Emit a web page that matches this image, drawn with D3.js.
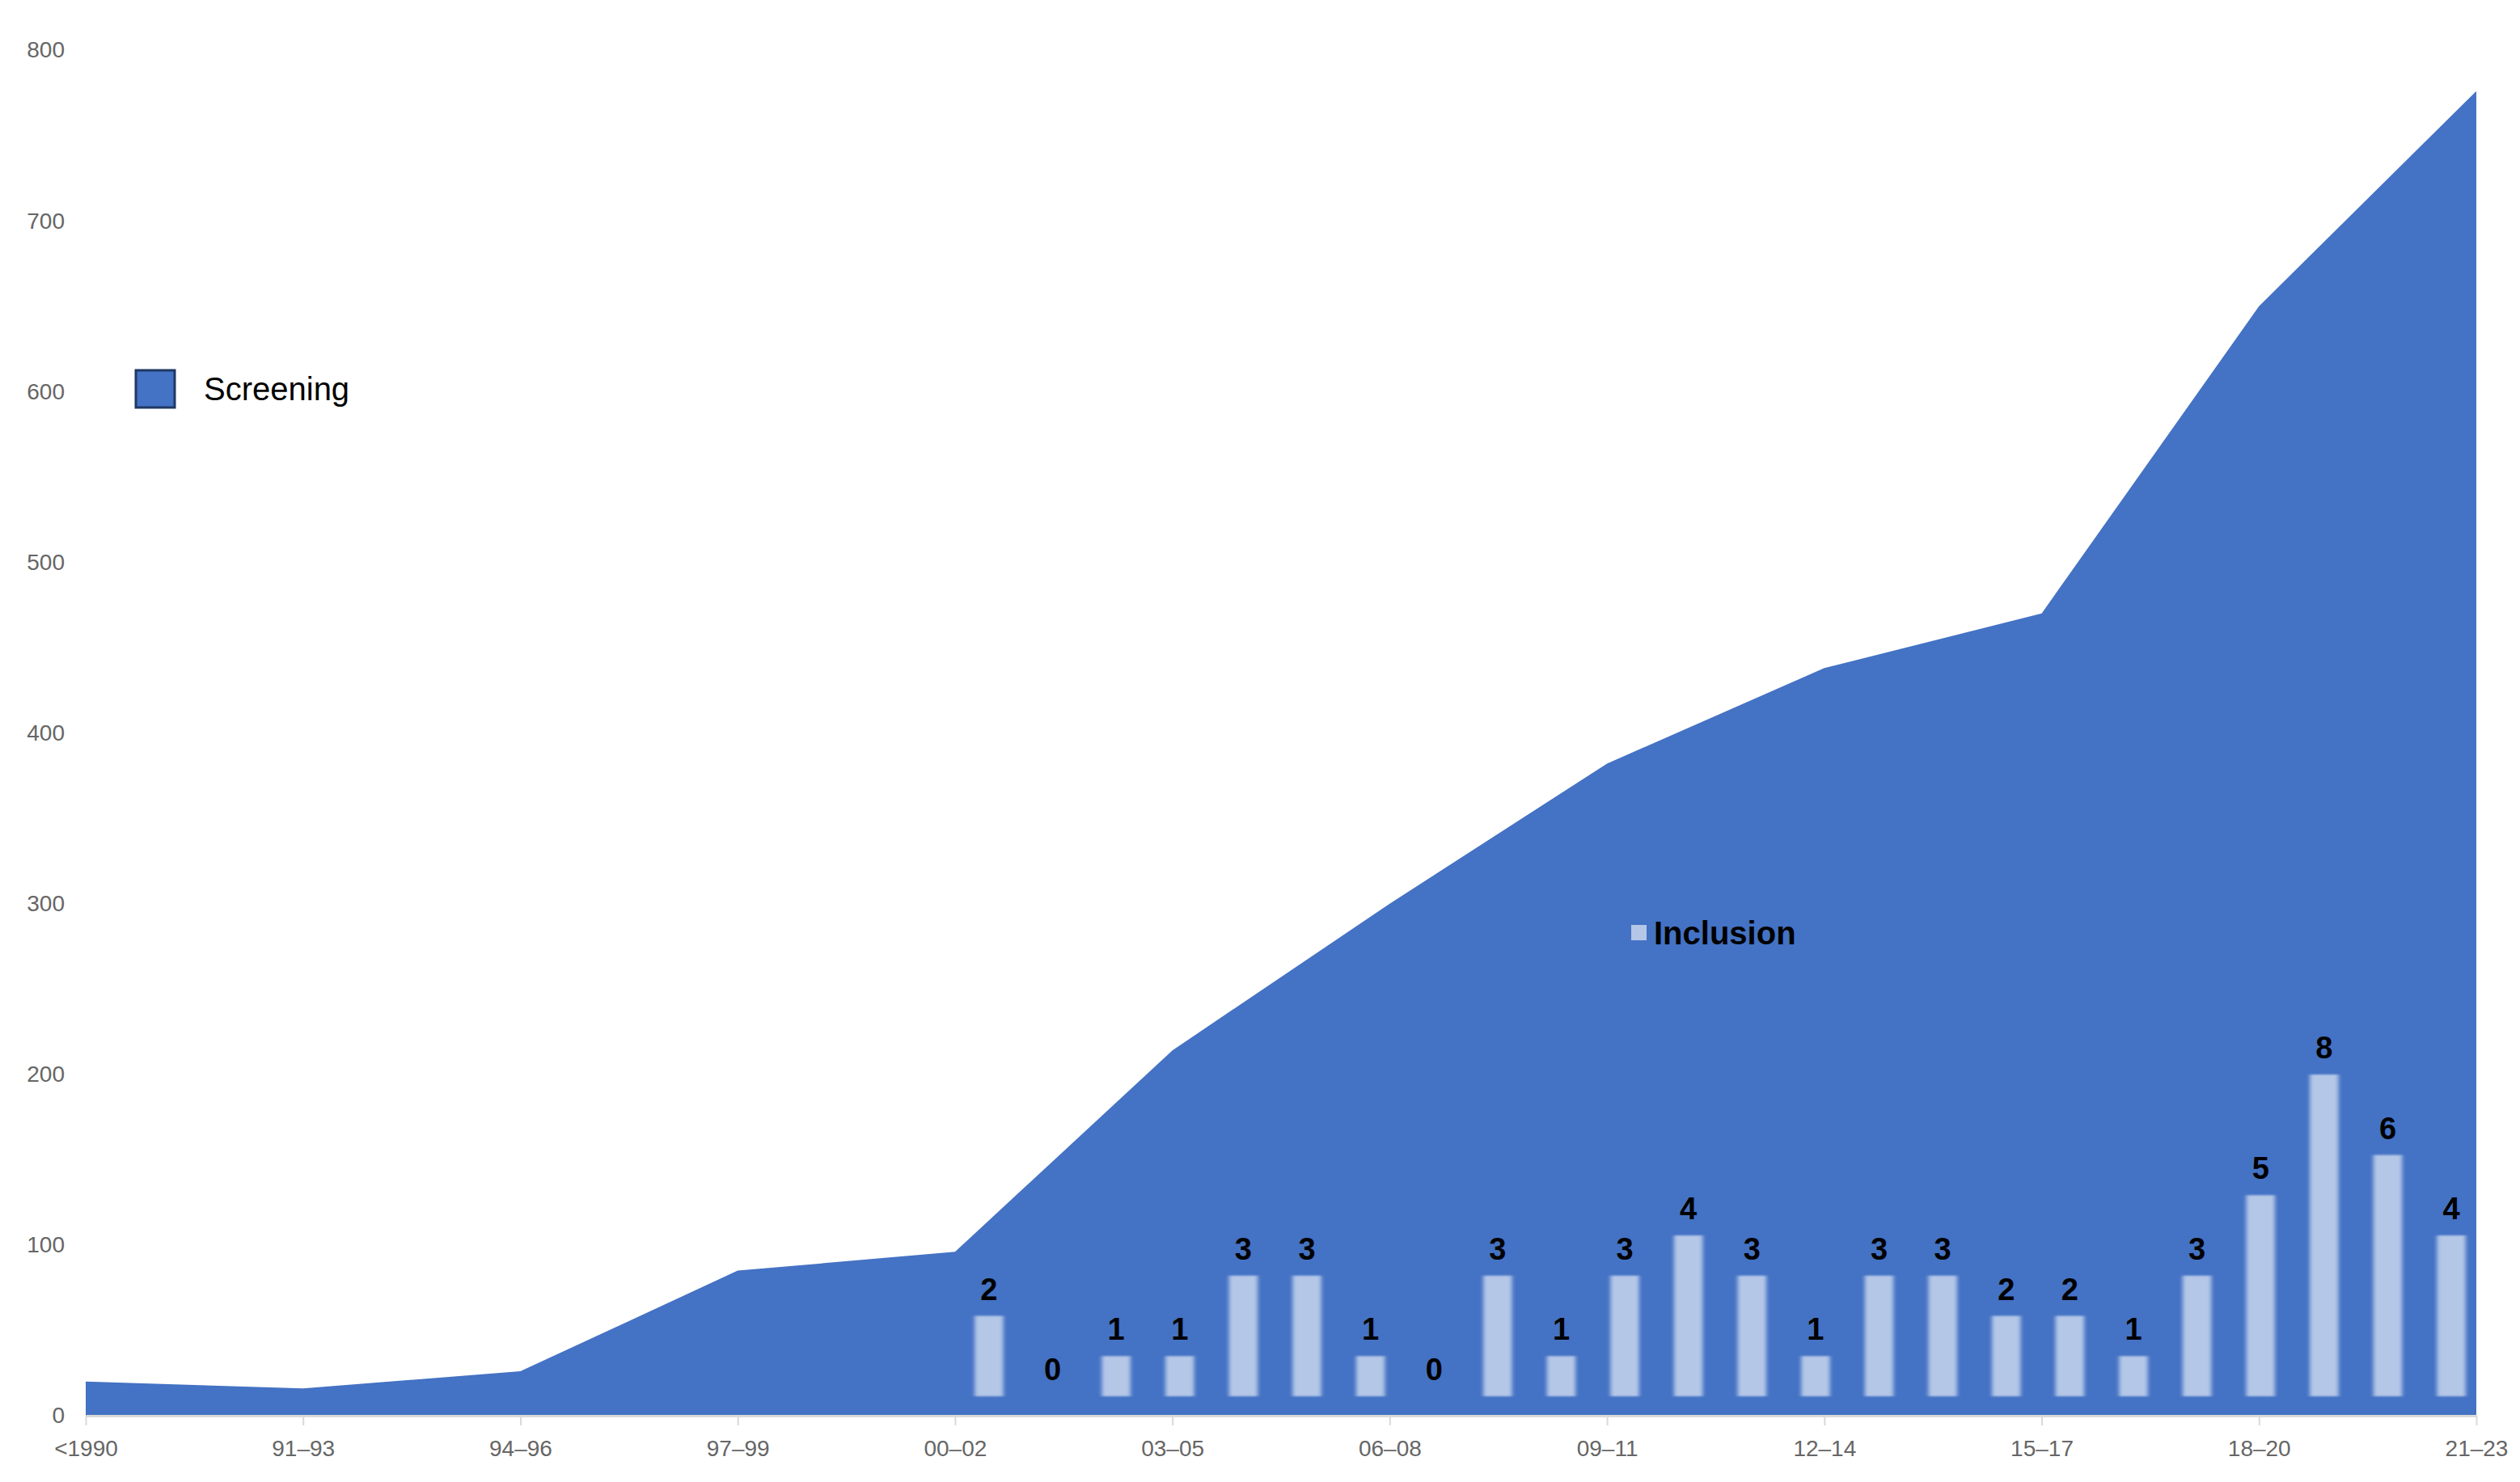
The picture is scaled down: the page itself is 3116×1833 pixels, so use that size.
<!DOCTYPE html>
<html><head><meta charset="utf-8">
<script src="https://cdn.jsdelivr.net/npm/d3@7"></script>
<style>body{margin:0;background:#fff}</style>
</head><body>
<script>
const periods = ["<1990","91–93","94–96","97–99","00–02","03–05","06–08","09–11","12–14","15–17","18–20","21–23"];
const screening = [20,16,26,85,96,214,300,382,438,470,650,776];
const years = d3.range(2000,2024).map(String);
const inclusion = [2,0,1,1,3,3,1,0,3,1,3,4,3,1,3,3,2,2,1,3,5,8,6,4];
const yTicks = [0,100,200,300,400,500,600,700,800];

const W=3116,H=1833;
const svg=d3.select("body").append("svg").attr("width",W).attr("height",H);
const defs=svg.append("defs");
const f=defs.append("filter").attr("id","blur").attr("x","-30%").attr("width","160%");
f.append("feGaussianBlur").attr("stdDeviation","2.5 1");

const x=d3.scalePoint().domain(periods).range([106,3062]);
const y=d3.scaleLinear().domain([0,800]).range([1751,62]);

// area
svg.append("path").datum(screening)
  .attr("fill","#4472c4")
  .attr("d",d3.area().x((d,i)=>x(periods[i])).y0(y(0)).y1(d=>y(d)));

// axes
const ya=svg.append("g").attr("transform","translate(80,0)")
  .call(d3.axisLeft(y).tickValues(yTicks).tickSize(0).tickPadding(0));
ya.select(".domain").remove();
ya.selectAll("text").attr("font-family","Liberation Sans, Arial").attr("font-size",28).attr("fill","#666");

const xa=svg.append("g").attr("transform",`translate(0,${y(0)})`)
  .call(d3.axisBottom(x).tickSize(12).tickPadding(18).tickSizeOuter(0));
xa.select(".domain").attr("stroke","#d9d9d9").attr("stroke-width",3);
xa.selectAll("line").attr("stroke","#d9d9d9").attr("stroke-width",2);
xa.selectAll("text").attr("font-family","Liberation Sans, Arial").attr("font-size",28).attr("fill","#666");

// bars
const xb=d3.scaleBand().domain(years).range([1162,3092]).padding(0.55);
const yb=d3.scaleLinear().domain([0,8]).range([1727,1329]);
svg.append("g").selectAll("rect").data(inclusion).join("rect")
  .attr("x",(d,i)=>xb(years[i])).attr("width",xb.bandwidth())
  .attr("y",d=>yb(d)).attr("height",d=>yb(0)-yb(d))
  .attr("fill","#b4c7e7").attr("filter","url(#blur)");
svg.append("g").selectAll("text").data(inclusion).join("text")
  .attr("x",(d,i)=>xb(years[i])+xb.bandwidth()/2)
  .attr("y",d=>yb(d)-20)
  .attr("text-anchor","middle").attr("font-family","Liberation Sans, Arial")
  .attr("font-weight","bold").attr("font-size",38).attr("fill","#000")
  .text(d=>d);

// legends
svg.append("rect").attr("x",168).attr("y",458).attr("width",48).attr("height",46)
  .attr("fill","#4472c4").attr("stroke","#1f3864").attr("stroke-width",3);
svg.append("text").attr("x",252).attr("y",495).attr("font-family","Liberation Sans, Arial")
  .attr("font-size",40).attr("fill","#000").text("Screening");
svg.append("rect").attr("x",2017).attr("y",1144).attr("width",19).attr("height",19).attr("fill","#b4c7e7");
svg.append("text").attr("x",2045).attr("y",1168).attr("font-family","Liberation Sans, Arial")
  .attr("font-weight","bold").attr("font-size",40).attr("fill","#000").text("Inclusion");
</script>
</body></html>
